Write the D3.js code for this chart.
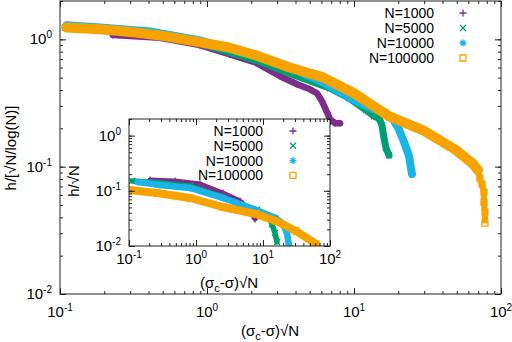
<!DOCTYPE html>
<html>
<head>
<meta charset="utf-8">
<script src="https://cdn.jsdelivr.net/npm/d3@7"></script>
<style>
body { margin: 0; background: #fff; }
text { font-family: "Liberation Sans", Arial, sans-serif; fill: #000; }
</style>
</head>
<body>
<div id="chart"></div>
<script>
var names = ["N=1000", "N=5000", "N=10000", "N=100000"];
var colors = ["#7d2e8d", "#009e73", "#1bb4e8", "#f6a300"];
var markers = ["plus", "cross", "star", "square"];

var xTickExps = [-1, 0, 1, 2];
var yTickExps = [-2, -1, 0];

// main panel, h/[sqrt(N)/log(N)] vs (sigma_c - sigma) sqrt(N)
var main1000 = [[0.229,1.08],[0.479,1.03],[0.895,0.90],[1.43,0.76],[2.15,0.655],[3.14,0.513],[4.10,0.444],[5.02,0.405],[5.60,0.377],[6.06,0.326],[6.55,0.268],[6.87,0.236],[7.43,0.219],[8.03,0.219]];
var main5000 = [[0.108,1.24],[0.187,1.20],[0.409,1.11],[0.895,0.930],[2.15,0.684],[4.10,0.513],[6.87,0.413],[9.25,0.345],[12.1,0.278],[13.7,0.249],[14.8,0.240],[15.5,0.212],[16.0,0.167],[16.5,0.140],[17.3,0.123]];
var main10000 = [[0.111,1.29],[0.187,1.24],[0.409,1.155],[0.895,0.982],[2.15,0.736],[3.67,0.603],[6.15,0.460],[9.84,0.338],[12.6,0.293],[15.7,0.268],[18.4,0.236],[20.2,0.197],[21.9,0.156],[23.7,0.121],[24.4,0.0973],[24.8,0.0873]];
var main100000 = [[0.111,1.24],[0.187,1.20],[0.314,1.135],[0.526,1.055],[0.895,0.947],[1.39,0.866],[2.15,0.749],[3.61,0.603],[6.15,0.503],[10.3,0.370],[17.3,0.249],[29.5,0.193],[49.4,0.135],[64.5,0.105],[69.8,0.094]];
var tail100000 = [[69.8,0.094],[71.9,0.0812],[74.3,0.0729],[76.6,0.0631],[76.6,0.0527],[77.8,0.044],[77.8,0.036]];

// inset, h/sqrt(N)
var inset1000 = [[0.206,0.157],[0.486,0.151],[1.15,0.133],[2.53,0.0912],[4.54,0.0654],[6.4,0.0449],[7.6,0.0309]];
var inset5000 = [[0.111,0.151],[0.290,0.139],[0.813,0.122],[2.53,0.0773],[8.13,0.0449],[11.9,0.035],[13.6,0.0251],[15.1,0.0172],[16.2,0.0118]];
var inset10000 = [[0.136,0.1445],[0.290,0.127],[0.813,0.1125],[2.53,0.0741],[7.86,0.0449],[15.6,0.0322],[19.9,0.0251],[22.8,0.0172],[24.4,0.0102]];
var inset100000 = [[0.1,0.1035],[0.262,0.0912],[0.813,0.0741],[2.53,0.0509],[7.86,0.038],[15.6,0.0284],[31.1,0.0187],[61.8,0.0109]];

var svg = d3.select("#chart").append("svg")
    .attr("width", 512)
    .attr("height", 342);

function minorTicks(lo, hi) {
    var t = [];
    for (var e = -3; e <= 3; e++) {
        for (var m = 1; m < 10; m++) {
            var v = m * Math.pow(10, e);
            if (v >= lo * 0.999 && v <= hi * 1.001) t.push(v);
        }
    }
    return t;
}

function markerPath(kind) {
    if (kind == "plus") return "M-3.5,0H3.5M0,-3.5V3.5";
    if (kind == "cross") return "M-3,-3L3,3M-3,3L3,-3";
    if (kind == "star") return "M-3.5,0H3.5M0,-3.5V3.5M-2.5,-2.5L2.5,2.5M-2.5,2.5L2.5,-2.5";
    return "M-3,-3H3V3H-3Z";
}

LogPanel = function(box, series, widths, opts) {
    var vis = this;
    vis.box = box;
    vis.series = series;
    vis.widths = widths;
    vis.opts = opts;
    vis.initVis();
}

LogPanel.prototype.initVis = function() {
    var vis = this;
    var b = vis.box;

    vis.x = d3.scaleLog().domain([0.1, 100]).range([b.left, b.right]);
    vis.y = d3.scaleLog().domain([0.01, 2]).range([b.bottom, b.top]);

    vis.g = svg.append("g");

    if (vis.opts.fill) {
        vis.g.append("rect")
            .attr("x", b.left).attr("y", b.top)
            .attr("width", b.right - b.left).attr("height", b.bottom - b.top)
            .attr("fill", "#fff");
    }

    var clipId = "clip" + vis.opts.id;
    vis.g.append("clipPath").attr("id", clipId)
        .append("rect")
        .attr("x", b.left).attr("y", b.top)
        .attr("width", b.right - b.left).attr("height", b.bottom - b.top);

    vis.plot = vis.g.append("g").attr("clip-path", "url(#" + clipId + ")");

    var line = d3.line()
        .x(function(d) { return vis.x(d[0]); })
        .y(function(d) { return vis.y(d[1]); });

    vis.series.forEach(function(s, i) {
        vis.plot.append("path")
            .attr("d", line(s))
            .attr("fill", "none")
            .attr("stroke", colors[i])
            .attr("stroke-width", vis.widths[i])
            .attr("stroke-linejoin", "round")
            .attr("stroke-linecap", "round");

        // steep end of a curve: thinner column of points
        if (vis.opts.tails && vis.opts.tails[i]) {
            vis.plot.append("path")
                .attr("d", line(vis.opts.tails[i]))
                .attr("fill", "none")
                .attr("stroke", colors[i])
                .attr("stroke-width", 6)
                .attr("stroke-linejoin", "round");
            s = s.concat(vis.opts.tails[i]);
        }

        vis.plot.selectAll(".m" + i)
            .data(s)
            .enter().append("path")
            .attr("class", "m" + i)
            .attr("transform", function(d) { return "translate(" + vis.x(d[0]) + "," + vis.y(d[1]) + ")"; })
            .attr("d", markerPath(markers[i]))
            .attr("fill", "none")
            .attr("stroke", colors[i])
            .attr("stroke-width", 1.3);
    });

    // ticks, pointing inward, mirrored on all sides
    var xMinor = minorTicks(0.1, 100), yMinor = minorTicks(0.01, 2);
    var xMajor = xTickExps.map(function(e) { return Math.pow(10, e); });
    var yMajor = yTickExps.map(function(e) { return Math.pow(10, e); });

    var axes = [
        [d3.axisBottom(vis.x), "translate(0," + b.bottom + ")", xMinor, xMajor],
        [d3.axisTop(vis.x), "translate(0," + b.top + ")", xMinor, xMajor],
        [d3.axisLeft(vis.y), "translate(" + b.left + ",0)", yMinor, yMajor],
        [d3.axisRight(vis.y), "translate(" + b.right + ",0)", yMinor, yMajor]
    ];
    axes.forEach(function(a) {
        var gMinor = vis.g.append("g").attr("transform", a[1])
            .call(a[0].tickValues(a[2]).tickSizeInner(-3).tickSizeOuter(0).tickFormat(""));
        gMinor.select(".domain").remove();
        var gMajor = vis.g.append("g").attr("transform", a[1])
            .call(a[0].tickValues(a[3]).tickSizeInner(-6).tickSizeOuter(0).tickFormat(""));
        gMajor.select(".domain").remove();
    });
    vis.g.selectAll(".tick line").attr("stroke", "#222");

    vis.g.append("rect")
        .attr("x", b.left).attr("y", b.top)
        .attr("width", b.right - b.left).attr("height", b.bottom - b.top)
        .attr("fill", "none")
        .attr("stroke", "#222")
        .attr("stroke-width", 1);

    // tick labels 10^n
    var xl = vis.g.selectAll(".xlab").data(xTickExps).enter().append("text")
        .attr("class", "xlab")
        .attr("x", function(d) { return vis.x(Math.pow(10, d)); })
        .attr("y", b.bottom + vis.opts.xLabGap)
        .attr("text-anchor", "middle")
        .attr("font-size", 15);
    xl.append("tspan").text("10");
    xl.append("tspan").attr("dy", -6).attr("font-size", 10).text(function(d) { return d; });

    var yl = vis.g.selectAll(".ylab").data(yTickExps).enter().append("text")
        .attr("class", "ylab")
        .attr("x", b.left - 8)
        .attr("y", function(d) { return vis.y(Math.pow(10, d)) + 5; })
        .attr("text-anchor", "end")
        .attr("font-size", 15);
    yl.append("tspan").text("10");
    yl.append("tspan").attr("dy", -6).attr("font-size", 10).text(function(d) { return d; });

    // axis titles
    var xt = vis.g.append("text")
        .attr("x", vis.opts.xTitle[0])
        .attr("y", vis.opts.xTitle[1])
        .attr("text-anchor", "middle")
        .attr("font-size", 15);
    xt.append("tspan").text("(σ");
    xt.append("tspan").attr("dy", 4).attr("font-size", 11).text("c");
    xt.append("tspan").attr("dy", -4).text("-σ)√N");

    vis.g.append("text")
        .attr("transform", "translate(" + vis.opts.yTitle[0] + "," + vis.opts.yTitle[1] + ") rotate(-90)")
        .attr("text-anchor", "middle")
        .attr("font-size", 15)
        .text(vis.opts.yText);

    // key
    var key = vis.g.selectAll(".key").data(names).enter().append("g")
        .attr("class", "key")
        .attr("transform", function(d, i) { return "translate(0," + (vis.opts.keyTop + i * vis.opts.keyStep) + ")"; });
    key.append("text")
        .attr("x", vis.opts.keyTextX)
        .attr("y", 5)
        .attr("text-anchor", "end")
        .attr("font-size", vis.opts.keyFont)
        .text(function(d) { return d; });
    key.append("path")
        .attr("transform", "translate(" + vis.opts.keyMarkX + ",0)")
        .attr("d", function(d, i) { return markerPath(markers[i]); })
        .attr("fill", "none")
        .attr("stroke", function(d, i) { return colors[i]; })
        .attr("stroke-width", 1.3);
}

new LogPanel({left: 60, right: 501, top: 1, bottom: 294},
    [main1000, main5000, main10000, main100000], [6.5, 7, 8, 10],
    {id: "main", fill: false, xLabGap: 23, xTitle: [270, 336], yTitle: [16, 148],
     yText: "h/[√N/log(N)]", keyTop: 13, keyStep: 15, keyTextX: 434, keyMarkX: 463, keyFont: 14,
     tails: [null, null, null, tail100000]});

new LogPanel({left: 129, right: 330, top: 119, bottom: 246},
    [inset1000, inset5000, inset10000, inset100000], [5, 5.5, 6.5, 8],
    {id: "inset", fill: true, xLabGap: 18, xTitle: [229, 288], yTitle: [79, 181],
     yText: "h/√N", keyTop: 131, keyStep: 14.8, keyTextX: 263, keyMarkX: 293, keyFont: 14});
</script>
</body>
</html>
